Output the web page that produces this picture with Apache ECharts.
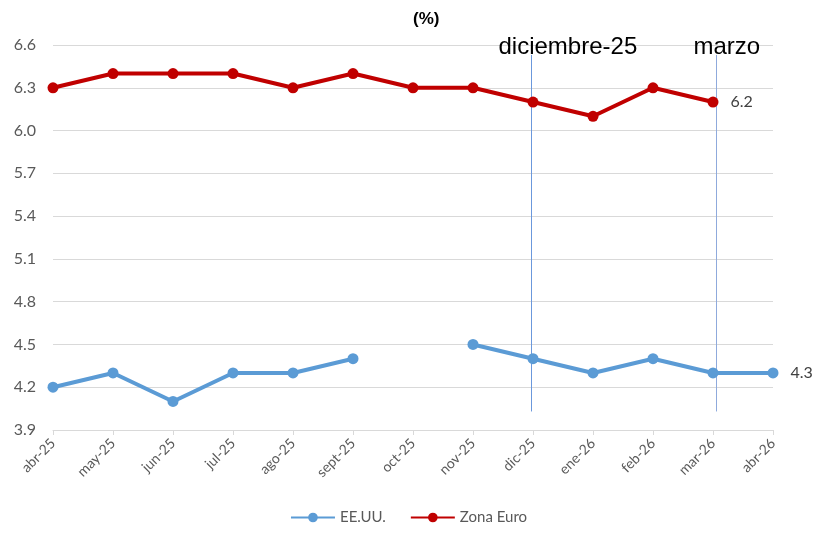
<!DOCTYPE html>
<html>
<head>
<meta charset="utf-8">
<script src="https://cdn.jsdelivr.net/npm/echarts@6/dist/echarts.min.js"></script>
<style>
  html, body { margin: 0; padding: 0; background: #fff; }
  #chart { width: 817px; height: 535px; }
</style>
</head>
<body>
<div id="chart"></div>
<script>
// datos
var meses = ['abr-25', 'may-25', 'jun-25', 'jul-25', 'ago-25', 'sept-25', 'oct-25', 'nov-25', 'dic-25', 'ene-26', 'feb-26', 'mar-26', 'abr-26'];
var eeuu = [4.2, 4.3, 4.1, 4.3, 4.3, 4.4, null, 4.5, 4.4, 4.3, 4.4, 4.3, 4.3];
var zonaEuro = [6.3, 6.4, 6.4, 6.4, 6.3, 6.4, 6.3, 6.3, 6.2, 6.1, 6.3, 6.2, null];
var marcaMeses = ['dic-25', 'mar-26'];
var marcaTextos = ['diciembre-25', 'marzo'];
var marcaColores = ['#6b98dc', '#8faadc'];
var yTop = 6.53, yBottom = 4.03;

var fuente = 'Lato, "Open Sans", sans-serif';

// solo el ultimo punto de cada serie lleva etiqueta
function conEtiqueta(arr) {
  var last = -1;
  arr.forEach(function (v, i) { if (v !== null) last = i; });
  return arr.map(function (v, i) {
    if (i !== last) return v;
    return {
      value: v,
      label: {
        show: true, position: 'right', distance: 12,
        color: '#404040', fontSize: 16, fontFamily: fuente,
        formatter: function (p) { return p.value.toFixed(1); }
      }
    };
  });
}

// pequeños desplazamientos de las lineas y textos como en el original
var marcaDx = [-2.5, 2.5];
var marcaTx = [-33, -23];

var myChart = echarts.init(document.getElementById('chart'));
myChart.setOption({
  animation: false,
  title: {
    text: '(%)', left: 408, top: 6,
    textStyle: { fontSize: 17, fontWeight: 'bold', color: '#000', fontFamily: 'Liberation Sans, Arial, sans-serif' }
  },
  legend: {
    bottom: 5, left: 'center', itemWidth: 44, itemHeight: 12, itemGap: 24,
    textStyle: { color: '#595959', fontSize: 15, fontFamily: fuente },
    data: ['EE.UU.', 'Zona Euro']
  },
  grid: { left: 53, right: 44, top: 45, bottom: 105 },
  xAxis: {
    type: 'category', data: meses, boundaryGap: false,
    axisLine: { lineStyle: { color: '#d9d9d9' } },
    axisTick: { show: true, alignWithLabel: true, lineStyle: { color: '#d9d9d9' }, length: 5 },
    axisLabel: { rotate: 45, color: '#595959', fontSize: 14, fontFamily: fuente, interval: 0, margin: 11 }
  },
  yAxis: {
    type: 'value', min: 3.9, max: 6.6, interval: 0.3,
    axisLine: { show: false }, axisTick: { show: false },
    splitLine: { lineStyle: { color: '#d9d9d9' } },
    axisLabel: {
      color: '#595959', fontSize: 16, fontFamily: fuente, margin: 17,
      formatter: function (v) { return v.toFixed(1); }
    }
  },
  series: [
    {
      name: 'EE.UU.', type: 'line', data: conEtiqueta(eeuu), z: 3,
      connectNulls: false, symbol: 'circle', symbolSize: 11,
      itemStyle: { color: '#5b9bd5' }, lineStyle: { width: 4, color: '#5b9bd5' }
    },
    {
      name: 'Zona Euro', type: 'line', data: conEtiqueta(zonaEuro), z: 3,
      symbol: 'circle', symbolSize: 11,
      itemStyle: { color: '#c00000' }, lineStyle: { width: 4, color: '#c00000' }
    },
    {
      // lineas verticales de referencia con su texto
      type: 'custom', silent: true, z: 1,
      data: marcaMeses.map(function (m, k) { return [m, yBottom, yTop, k]; }),
      renderItem: function (params, api) {
        var k = api.value(3);
        var p0 = api.coord([api.value(0), api.value(1)]);
        var p1 = api.coord([api.value(0), api.value(2)]);
        var x = Math.round(p0[0] + marcaDx[k]) + 0.5;
        return {
          type: 'group',
          children: [
            {
              type: 'line',
              shape: { x1: x, y1: p0[1], x2: x, y2: p1[1] },
              style: { stroke: marcaColores[k], lineWidth: 1 }
            },
            {
              type: 'text',
              style: {
                x: x + marcaTx[k], y: p1[1] - 8,
                text: marcaTextos[k], fill: '#000', fontSize: 24,
                fontFamily: 'Liberation Sans, Arial, sans-serif',
                textVerticalAlign: 'middle'
              }
            }
          ]
        };
      }
    }
  ]
});
</script>
</body>
</html>
